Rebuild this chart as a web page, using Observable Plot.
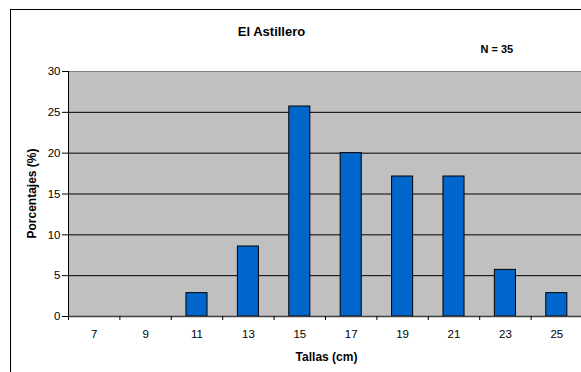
<!DOCTYPE html>
<html>
<head>
<meta charset="utf-8">
<script src="https://cdn.jsdelivr.net/npm/d3@7"></script>
<script src="https://cdn.jsdelivr.net/npm/@observablehq/plot@0.6"></script>
<style>
  html, body { margin: 0; padding: 0; background: #fff; overflow: hidden; }
  svg { display: block; }
</style>
</head>
<body>
<div id="chart"></div>
<script>
const tallas = [7, 9, 11, 13, 15, 17, 19, 21, 23, 25];
const porcentajes = [0, 0, 2.86, 8.57, 25.71, 20.0, 17.14, 17.14, 5.71, 2.86];
const yTicks = [0, 5, 10, 15, 20, 25, 30];
const gridLines = [5, 10, 15, 20, 25];
const binEdges = [6, 8, 10, 12, 14, 16, 18, 20, 22, 24, 26];
const title = "El Astillero";
const nLabel = "N = 35";
const xLabel = "Tallas (cm)";
const yLabel = "Porcentajes (%)";

const data = tallas.map((t, i) => ({talla: t, pct: porcentajes[i]}));
const half = 0.41;
const font = "'Liberation Sans', Arial, sans-serif";

const chart = Plot.plot({
  width: 581,
  height: 372,
  marginLeft: 68,
  marginRight: 0,
  marginTop: 71,
  marginBottom: 56,
  style: {fontFamily: font, fontSize: "11px", color: "#000", background: "#fff"},
  x: {domain: [6, 26], range: [68, 582]},
  y: {domain: [0, 30]},
  marks: [
    Plot.frame({fill: "#C0C0C0", stroke: null}),
    Plot.ruleY(gridLines, {stroke: "#000", strokeWidth: 1}),
    Plot.ruleY([30], {stroke: "#808080", strokeWidth: 1}),
    Plot.rectY(data.filter(d => d.pct > 0), {
      x1: d => d.talla - half, x2: d => d.talla + half, y: "pct",
      fill: "#0066CC", stroke: "#000", strokeWidth: 1
    }),
    Plot.ruleY([0], {stroke: "#404040", strokeWidth: 1.5}),
    Plot.ruleX([6], {stroke: "#000", strokeWidth: 1}),
    Plot.axisY({ticks: yTicks, tickSize: 6, tickPadding: 2, label: null, fontSize: 11.5}),
    Plot.axisX({ticks: binEdges, tickSize: 4, tickFormat: () => "", label: null}),
    Plot.axisX({ticks: tallas, tickSize: 0, tickPadding: 13, label: null, fontSize: 11.5}),
    Plot.text([title], {frameAnchor: "top-left", dx: 203, dy: -39.5, text: d => d, fontWeight: "bold", fontSize: 13, textAnchor: "middle", lineAnchor: "middle"}),
    Plot.text([nLabel], {frameAnchor: "top-left", dx: 412, dy: -22, text: d => d, fontWeight: "bold", fontSize: 11, textAnchor: "start", lineAnchor: "middle"}),
    Plot.text([xLabel], {frameAnchor: "top-left", dx: 258, dy: 286, text: d => d, fontWeight: "bold", fontSize: 12, textAnchor: "middle", lineAnchor: "middle"}),
    Plot.text([yLabel], {frameAnchor: "top-left", dx: -36, dy: 122, text: d => d, fontWeight: "bold", fontSize: 12, textAnchor: "middle", lineAnchor: "middle", rotate: -90})
  ]
});

d3.select(chart).append("rect")
  .attr("x", 10.5).attr("y", 9.5)
  .attr("width", 620).attr("height", 420)
  .attr("fill", "none").attr("stroke", "#000").attr("stroke-width", 1);

document.getElementById("chart").appendChild(chart);
</script>
</body>
</html>
